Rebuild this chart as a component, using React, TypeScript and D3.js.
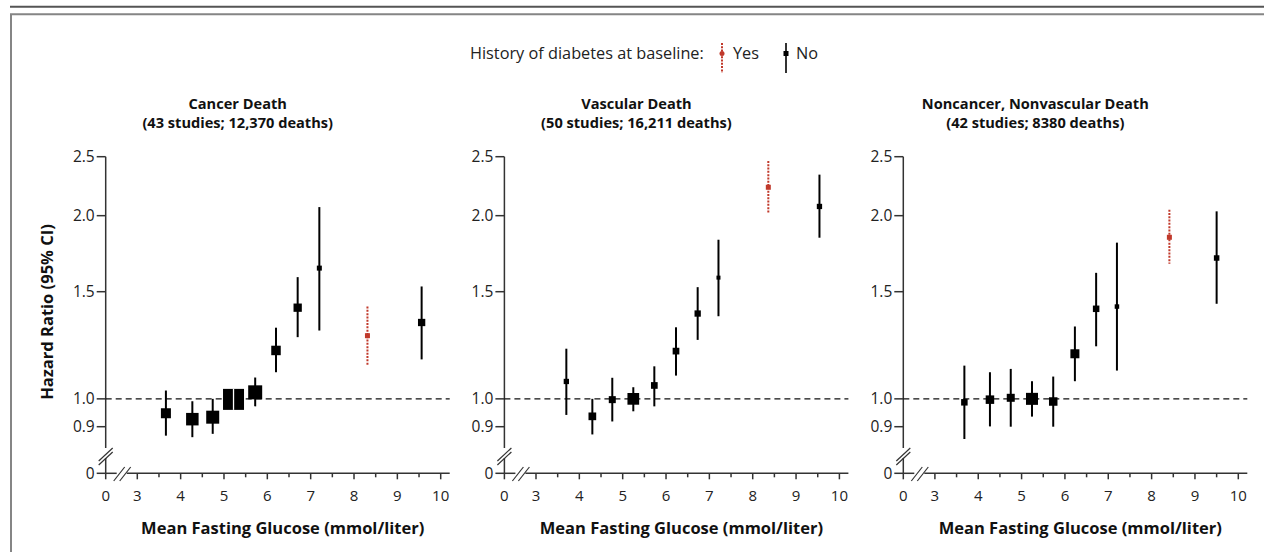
import React from "react";
import * as d3 from "d3";

// ---------- data ----------
const panelTitles = ["Cancer Death", "Vascular Death", "Noncancer, Nonvascular Death"];
const panelSubtitles = ["(43 studies; 12,370 deaths)", "(50 studies; 16,211 deaths)", "(42 studies; 8380 deaths)"];

const yTicks = [0.9, 1.0, 1.5, 2.0, 2.5];
const yTickLabels = ["0.9", "1.0", "1.5", "2.0", "2.5"];
const xMajorTicks = [3, 4, 5, 6, 7, 8, 9, 10];
const xMinorTicks = [3.5, 4.5, 5.5, 6.5, 7.5, 8.5, 9.5];

// Cancer death (no diabetes)
const cancerGlucose = [3.66, 4.27, 4.74, 5.22, 5.72, 6.2, 6.7, 7.2, 9.56];
const cancerHR = [0.947, 0.926, 0.933, 0.998, 1.025, 1.201, 1.412, 1.64, 1.335];
const cancerLo = [0.87, 0.865, 0.876, 0.965, 0.972, 1.106, 1.263, 1.295, 1.161];
const cancerHi = [1.032, 0.991, 1.0, 1.035, 1.084, 1.309, 1.585, 2.066, 1.53];
const cancerBox = [10, 12.5, 13, 21, 14, 9.5, 8.3, 5, 7.3];

// Vascular death (no diabetes)
const vascGlucose = [3.7, 4.3, 4.76, 5.245, 5.73, 6.23, 6.73, 7.21, 9.54];
const vascHR = [1.068, 0.936, 0.997, 1.0, 1.052, 1.198, 1.381, 1.582, 2.071];
const vascLo = [0.941, 0.874, 0.918, 0.954, 0.972, 1.092, 1.25, 1.367, 1.84];
const vascHi = [1.209, 1.0, 1.083, 1.045, 1.131, 1.311, 1.526, 1.826, 2.336];
const vascBox = [5.3, 7.7, 7, 11.7, 6.7, 6.7, 6.3, 4, 5.3];

// Noncancer, nonvascular death (no diabetes)
const otherGlucose = [3.68, 4.27, 4.75, 5.24, 5.73, 6.23, 6.72, 7.2, 9.5];
const otherHR = [0.987, 0.997, 1.004, 1.0, 0.99, 1.186, 1.406, 1.418, 1.704];
const otherLo = [0.859, 0.901, 0.9, 0.935, 0.9, 1.069, 1.22, 1.113, 1.433];
const otherHi = [1.134, 1.106, 1.12, 1.069, 1.088, 1.315, 1.611, 1.806, 2.033];
const otherBox = [6.5, 8.5, 8, 12, 8.5, 9, 6.5, 4.5, 5.5];

// History of diabetes at baseline (one per panel)
const diabGlucose = [8.31, 8.36, 8.41];
const diabHR = [1.27, 2.227, 1.843];
const diabLo = [1.134, 2.015, 1.668];
const diabHi = [1.418, 2.46, 2.046];

const panelData = [
  { g: cancerGlucose, hr: cancerHR, lo: cancerLo, hi: cancerHi, box: cancerBox },
  { g: vascGlucose, hr: vascHR, lo: vascLo, hi: vascHi, box: vascBox },
  { g: otherGlucose, hr: otherHR, lo: otherLo, hi: otherHi, box: otherBox },
];

// ---------- layout ----------
const W = 1264;
const H = 552;
const FONT = "'Open Sans', 'Noto Sans', sans-serif";
const RED = "#c0392b";
const AXIS = "#333";
const axisX = [105.7, 504.4, 903.3];
const yTop = 156.7;
const yBottom = 426.7;
const yZero = 473.3;

const yScale = d3.scaleLog().domain([0.9, 2.5]).range([yBottom, yTop]);

function Panel({ idx }: { idx: number }) {
  const ax = axisX[idx];
  const x = d3.scaleLinear().domain([3, 10]).range([ax + 31.6, ax + 335]);
  const d = panelData[idx];
  const y1 = yScale(1);
  return (
    <g>
      {/* titles */}
      <text x={ax + 132} y={108.5} textAnchor="middle" fontWeight="bold" fontSize={14.6} fill="#111">
        {panelTitles[idx]}
      </text>
      <text x={ax + 132} y={127.5} textAnchor="middle" fontWeight="bold" fontSize={14.6} fill="#111">
        {panelSubtitles[idx]}
      </text>

      {/* y axis */}
      <line x1={ax} x2={ax} y1={yTop} y2={448} stroke={AXIS} strokeWidth={1.5} />
      <line x1={ax} x2={ax} y1={458} y2={yZero} stroke={AXIS} strokeWidth={1.5} />
      <line x1={ax - 7} x2={ax + 7} y1={461} y2={448} stroke={AXIS} strokeWidth={1.2} />
      <line x1={ax - 7} x2={ax + 7} y1={465} y2={452} stroke={AXIS} strokeWidth={1.2} />
      {yTicks.map((t, i) => (
        <g key={i}>
          <line x1={ax - 9} x2={ax} y1={yScale(t)} y2={yScale(t)} stroke={AXIS} strokeWidth={1.5} />
          <text x={ax - 11} y={yScale(t)} dy="0.36em" textAnchor="end" fontSize={15.5} fill="#222">
            {yTickLabels[i]}
          </text>
        </g>
      ))}
      <line x1={ax - 9} x2={ax} y1={yZero} y2={yZero} stroke={AXIS} strokeWidth={1.5} />
      <text x={ax - 11} y={yZero} dy="0.36em" textAnchor="end" fontSize={15.5} fill="#222">
        0
      </text>

      {/* x axis */}
      <line x1={ax} x2={ax + 11} y1={yZero} y2={yZero} stroke={AXIS} strokeWidth={1.5} />
      <line x1={ax + 21} x2={ax + 344} y1={yZero} y2={yZero} stroke={AXIS} strokeWidth={1.5} />
      <line x1={ax + 8} x2={ax + 19} y1={481} y2={467} stroke={AXIS} strokeWidth={1.2} />
      <line x1={ax + 14} x2={ax + 25} y1={481} y2={467} stroke={AXIS} strokeWidth={1.2} />
      <line x1={ax} x2={ax} y1={yZero} y2={yZero + 6} stroke={AXIS} strokeWidth={1.5} />
      <text x={ax} y={500.5} textAnchor="middle" fontSize={15} fill="#222">
        0
      </text>
      {xMajorTicks.map((t) => (
        <g key={t}>
          <line x1={x(t)} x2={x(t)} y1={yZero} y2={yZero + 6} stroke={AXIS} strokeWidth={1.5} />
          <text x={x(t)} y={500.5} textAnchor="middle" fontSize={15} fill="#222">
            {t}
          </text>
        </g>
      ))}
      {xMinorTicks.map((t) => (
        <line key={t} x1={x(t)} x2={x(t)} y1={yZero} y2={yZero + 4} stroke={AXIS} strokeWidth={1.5} />
      ))}
      <text x={ax + 177} y={534} textAnchor="middle" fontWeight="bold" fontSize={16.5} fill="#111">
        Mean Fasting Glucose (mmol/liter)
      </text>

      {/* reference line */}
      <line x1={ax} x2={ax + 344} y1={y1} y2={y1} stroke="#111" strokeWidth={1.2} strokeDasharray="6 4" />

      {/* no-diabetes points */}
      {d.g.map((g, i) => {
        const cx = x(g);
        const cy = yScale(d.hr[i]);
        const s = d.box[i];
        const top = yScale(d.hi[i]);
        const bot = yScale(d.lo[i]);
        const inside = top >= cy - s / 2 && bot <= cy + s / 2;
        return (
          <g key={i}>
            <line x1={cx} x2={cx} y1={top} y2={bot} stroke="#000" strokeWidth={2} />
            <rect x={cx - s / 2} y={cy - s / 2} width={s} height={s} fill="#000" />
            {inside && (
              <line x1={cx} x2={cx} y1={cy - s / 2} y2={cy + s / 2} stroke="#fff" strokeWidth={1.3} />
            )}
          </g>
        );
      })}

      {/* diabetes point */}
      <line
        x1={x(diabGlucose[idx])}
        x2={x(diabGlucose[idx])}
        y1={yScale(diabHi[idx])}
        y2={yScale(diabLo[idx])}
        stroke={RED}
        strokeWidth={2}
        strokeDasharray="2 1.3"
      />
      <rect
        x={x(diabGlucose[idx]) - 2.5}
        y={yScale(diabHR[idx]) - 2.5}
        width={5}
        height={5}
        fill={RED}
      />
    </g>
  );
}

export default function App() {
  return (
    <svg
      width={W}
      height={H}
      viewBox={`0 0 ${W} ${H}`}
      style={{ position: "absolute", left: 0, top: 0, background: "#fff" }}
      fontFamily={FONT}
    >
      <rect x={0} y={0} width={W} height={H} fill="#fff" />
      {/* frame */}
      <line x1={10} x2={W} y1={6.7} y2={6.7} stroke="#555" strokeWidth={2} />
      <path d={`M ${W} 14.3 H 11 V ${H}`} fill="none" stroke="#858585" strokeWidth={2} />

      {/* legend */}
      <text x={470} y={59} fontSize={16.3} fill="#222">
        History of diabetes at baseline:
      </text>
      <line x1={722} x2={722} y1={43} y2={73} stroke={RED} strokeWidth={2} strokeDasharray="2 1.3" />
      <circle cx={722} cy={53.5} r={2.5} fill={RED} />
      <text x={733} y={59} fontSize={16.3} fill="#222">
        Yes
      </text>
      <line x1={786} x2={786} y1={43} y2={73} stroke="#333" strokeWidth={2} />
      <rect x={783.5} y={51} width={5} height={5} fill="#000" />
      <text x={796} y={59} fontSize={16.3} fill="#222">
        No
      </text>

      {/* y axis label */}
      <text
        transform="translate(53,312) rotate(-90)"
        textAnchor="middle"
        fontWeight="bold"
        fontSize={16.5}
        fill="#111"
      >
        Hazard Ratio (95% CI)
      </text>

      {[0, 1, 2].map((i) => (
        <Panel key={i} idx={i} />
      ))}
    </svg>
  );
}
